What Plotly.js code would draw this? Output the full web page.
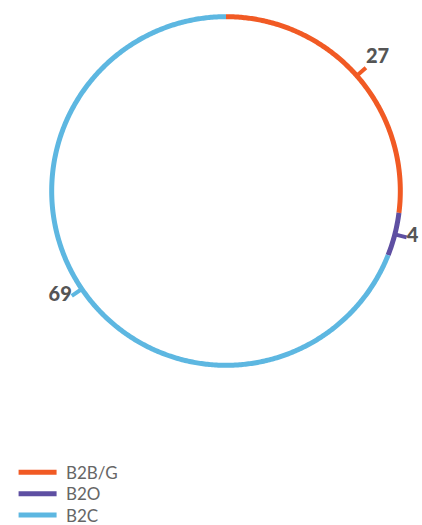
<!DOCTYPE html>
<html><head><meta charset="utf-8">
<script src="https://cdn.plot.ly/plotly-3.0.1.min.js"></script>
<style>html,body{margin:0;padding:0;background:#fff}#chart{width:422px;height:525px}</style>
</head><body><div id="chart"></div>
<script>
const categories = ["B2B/G", "B2O", "B2C"];
const values = [27, 4, 69];
const colors = ["#F15A24", "#5E4FA2", "#5DB7E1"];

const total = values.reduce((a, b) => a + b, 0);
const legendIds = ["legend", "legend2", "legend3"];
const traces = [];
let cum = 0;
const ticks = [];
categories.forEach((cat, i) => {
  const start = cum / total * 360;
  cum += values[i];
  const end = cum / total * 360;
  const th = [], rr = [];
  const n = Math.max(2, Math.ceil((end - start) / 0.5));
  for (let k = 0; k <= n; k++) { th.push(start + (end - start) * k / n); rr.push(1); }
  traces.push({
    type: "scatterpolar", mode: "lines", name: " " + cat, theta: th, r: rr,
    legend: legendIds[i],
    line: {color: colors[i], width: 5}, cliponaxis: false, hoverinfo: "skip"
  });
  ticks.push({mid: (start + end) / 2, i: i});
});
ticks.forEach(t => {
  traces.push({
    type: "scatterpolar", mode: "lines", showlegend: false, theta: [t.mid, t.mid], r: [1, 1.07],
    line: {color: colors[t.i], width: 4}, cliponaxis: false, hoverinfo: "skip"
  });
  let pos;
  if (t.mid < 90) pos = "top right";
  else if (t.mid < 180) pos = "middle right";
  else if (t.mid < 270) pos = "middle left";
  else pos = "top left";
  traces.push({
    type: "scatterpolar", mode: "text", showlegend: false, theta: [t.mid], r: [1.07],
    text: [String(values[t.i])], textposition: pos,
    textfont: {family: "Lato, sans-serif", size: 20, color: "#555555", weight: 900},
    cliponaxis: false, hoverinfo: "skip"
  });
});

const legFont = {family: "Lato, sans-serif", size: 17, color: "#666666"};
const legBase = {x: -0.059, xanchor: "left", yanchor: "middle", orientation: "v", font: legFont, itemwidth: 38, bgcolor: "rgba(0,0,0,0)", borderwidth: 0};
const layout = {
  width: 422, height: 525,
  margin: {l: 36.3, r: 6.4, t: 1.3, b: 144.4, autoexpand: false},
  paper_bgcolor: "#ffffff", plot_bgcolor: "#ffffff",
  showlegend: true,
  legend: Object.assign({}, legBase, {y: -0.241}),
  legend2: Object.assign({}, legBase, {y: -0.298}),
  legend3: Object.assign({}, legBase, {y: -0.354}),
  polar: {
    domain: {x: [0, 1], y: [0, 1]},
    bgcolor: "rgba(0,0,0,0)",
    radialaxis: {visible: false, range: [0, 1.09]},
    angularaxis: {visible: false, rotation: 90, direction: "clockwise"}
  }
};
Plotly.newPlot("chart", traces, layout, {displayModeBar: false, staticPlot: true});
</script></body></html>
